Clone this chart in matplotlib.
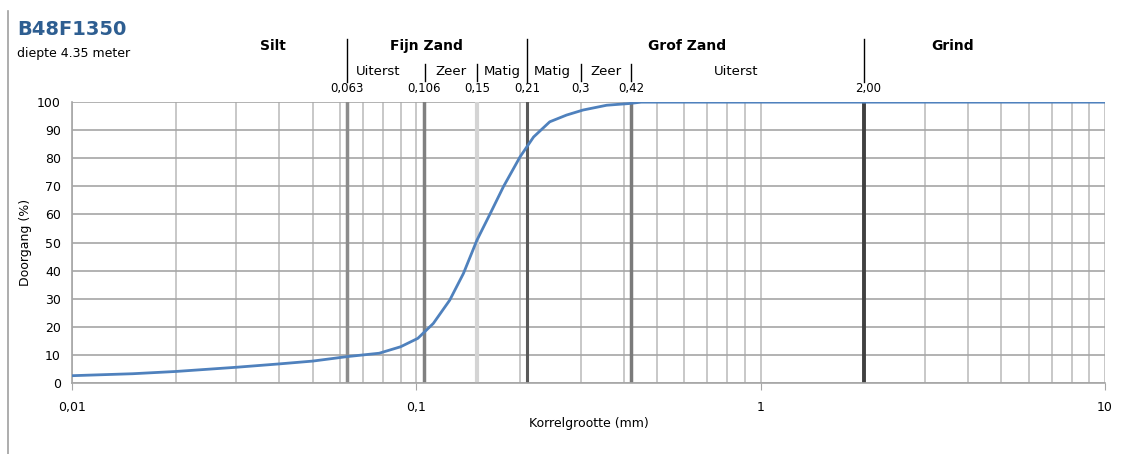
import numpy as np
import matplotlib.pyplot as plt
from matplotlib.lines import Line2D

plt.rcParams['font.family'] = 'DejaVu Sans'

# sieve curve
korrel = [0.01, 0.015, 0.02, 0.03, 0.04, 0.05, 0.063, 0.078, 0.09, 0.101, 0.112,
          0.125, 0.137, 0.15, 0.164, 0.179, 0.20, 0.219, 0.244, 0.273, 0.305,
          0.357, 0.414, 0.45, 1.0, 10.0]
doorgang = [2.6, 3.3, 4.1, 5.6, 6.8, 7.8, 9.4, 10.6, 12.9, 15.9, 21.2,
            29.5, 39.0, 50.9, 60.4, 69.9, 80.5, 87.6, 93.0, 95.4, 97.2,
            98.9, 99.5, 100.0, 100.0, 100.0]

# class boundaries (mm)
grenzen = [0.063, 0.105, 0.15, 0.21, 0.42, 2.0]
grens_kleur = ['#8c8c8c', '#808080', '#d4d4d4', '#5a5a5a', '#7a7a7a', '#404040']
grens_breedte = [2.5, 2.5, 3.0, 2.2, 2.5, 2.8]

hoofd_labels = ['Silt', 'Fijn Zand', 'Grof Zand', 'Grind']
hoofd_x = [0.0384, 0.1067, 0.611, 3.62]
sub_labels = ['Uiterst', 'Zeer', 'Matig', 'Matig', 'Zeer', 'Uiterst']
sub_x = [0.0775, 0.1262, 0.1774, 0.2478, 0.356, 0.849]
waarde_labels = ['0,063', '0,106', '0,15', '0,21', '0,3', '0,42', '2,00']
waarde_x = [0.063, 0.105, 0.15, 0.21, 0.30, 0.42, 2.05]

fig = plt.figure(figsize=(11.31, 4.54), dpi=100)
ax = fig.add_axes([0.0637, 0.1564, 0.9133, 0.6186])

ax.set_xscale('log')
ax.set_xlim(0.01, 10)
ax.set_ylim(0, 100)

ax.grid(True, which='both', axis='x', color='#bfbfbf', lw=1.2)
ax.grid(True, which='major', axis='y', color='#a6a6a6', lw=1.2)
ax.set_axisbelow(True)

for g, c, w in zip(grenzen, grens_kleur, grens_breedte):
    ax.axvline(g, color=c, lw=w, zorder=1.5)

ax.plot(korrel, doorgang, color='#4f81bd', lw=2, zorder=3)

ax.set_xticks([0.01, 0.1, 1, 10])
ax.set_xticklabels(['0,01', '0,1', '1', '10'])
ax.xaxis.set_minor_formatter(plt.NullFormatter())
ax.tick_params(axis='x', which='minor', length=0)
ax.tick_params(axis='x', which='major', length=5, color='#a6a6a6', labelsize=9, pad=8)
ax.set_yticks(np.arange(0, 101, 10))
ax.tick_params(axis='y', length=0, labelsize=9, pad=8)

for s in ['top', 'right']:
    ax.spines[s].set_visible(False)
for s in ['left', 'bottom']:
    ax.spines[s].set_color('#a6a6a6')
    ax.spines[s].set_linewidth(1.2)

ax.set_xlabel('Korrelgrootte (mm)', fontsize=9, labelpad=2)
ax.set_ylabel('Doorgang (%)', fontsize=9, labelpad=4)

# annotations above the plot
trans = ax.get_xaxis_transform()
for xx, lab in zip(hoofd_x, hoofd_labels):
    ax.text(xx, 1.2, lab, transform=trans, ha='center', va='center',
            fontsize=10, fontweight='bold')
for xx, lab in zip(sub_x, sub_labels):
    ax.text(xx, 1.11, lab, transform=trans, ha='center', va='center', fontsize=9.5)
for xx, lab in zip(waarde_x, waarde_labels):
    ax.text(xx, 1.05, lab, transform=trans, ha='center', va='center', fontsize=8.5)

# separators above the plot
for xx in [0.063, 0.21, 2.0]:
    ax.add_line(Line2D([xx, xx], [1.07, 1.225], transform=trans, color='black',
                       lw=1, clip_on=False))
for xx in [0.106, 0.15, 0.3, 0.42]:
    ax.add_line(Line2D([xx, xx], [1.075, 1.135], transform=trans, color='black',
                       lw=1, clip_on=False))

fig.text(0.015, 0.935, 'B48F1350', fontsize=14, fontweight='bold', color='#2e5e91',
         ha='left', va='center')
fig.text(0.015, 0.882, 'diepte 4.35 meter', fontsize=9, ha='left', va='center')

# left frame line
fig.add_artist(Line2D([0.0075, 0.0075], [0.0, 0.975], transform=fig.transFigure,
                      color='#a0a0a0', lw=1.2))

fig.savefig('out.png', dpi=100)
